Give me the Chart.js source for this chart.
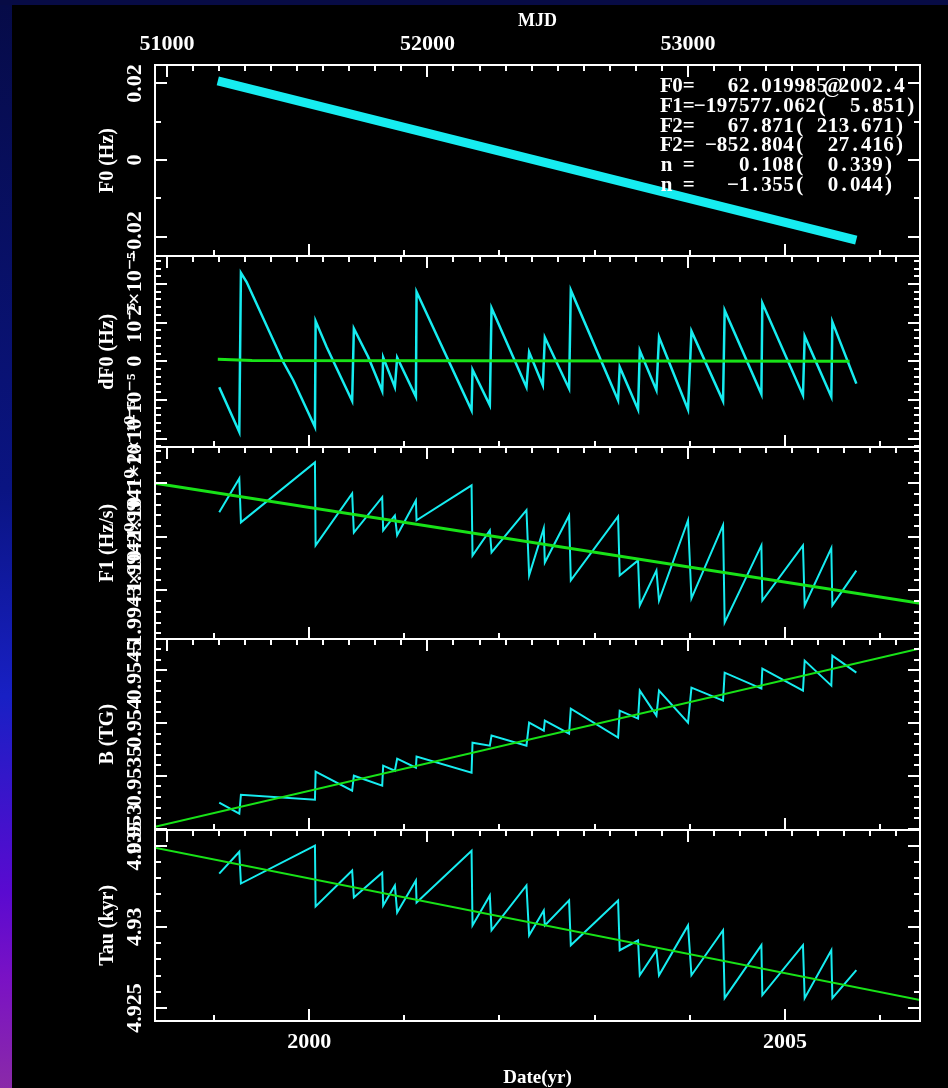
<!DOCTYPE html>
<html>
<head>
<meta charset="utf-8">
<title>Spin parameters</title>
<script src="https://cdn.jsdelivr.net/npm/chart.js@4.4.1/dist/chart.umd.min.js"></script>
<style>
  html, body { margin: 0; padding: 0; }
  body {
    width: 948px; height: 1088px; overflow: hidden; position: relative;
    background: linear-gradient(to bottom, #060b47 0%, #0a1482 45%, #1820c4 64%, #5a0ad0 82%, #7a12c4 90%, #8a2aa8 100%);
  }
  #band { position: absolute; left: 0; top: 0; width: 948px; height: 5px; background: #070b45; }
  #wrap { position: absolute; left: 12px; top: 5px; width: 936px; height: 1083px; background: #000; }
</style>
</head>
<body>
<div id="band"></div>
<div id="wrap"><canvas id="myChart" width="936" height="1083"></canvas></div>
<script>
// F0 model line (Hz, relative to epoch value)
var f0Years = [1999.04, 2005.75];
var f0Values = [0.02065, -0.02092];

// frequency residuals, units of 1e-5 Hz
var dfYears = [1999.055, 1999.266, 1999.283, 1999.343, 1999.728, 1999.833, 2000.061, 2000.068, 2000.184, 2000.289,
    2000.452, 2000.470, 2000.621, 2000.768, 2000.778, 2000.901, 2000.925, 2001.122, 2001.129, 2001.707,
    2001.717, 2001.899, 2001.917, 2002.284, 2002.312, 2002.456, 2002.477, 2002.732, 2002.750, 2003.247,
    2003.264, 2003.457, 2003.475, 2003.650, 2003.677, 2003.982, 2004.018, 2004.350, 2004.367, 2004.753,
    2004.763, 2005.190, 2005.208, 2005.488, 2005.499, 2005.751];
var dfValues = [-0.67, -1.83, 2.29, 2.05, -0.02, -0.49, -1.70, 1.04, 0.37, -0.18,
    -1.03, 0.85, 0.11, -0.77, 0.10, -0.67, 0.10, -0.92, 1.80, -1.27,
    -0.22, -1.14, 1.38, -0.67, 0.24, -0.62, 0.62, -0.71, 1.84, -1.01,
    -0.15, -1.25, 0.28, -0.75, 0.63, -1.25, 0.78, -1.03, 1.32, -0.85,
    1.51, -0.88, 0.65, -0.92, 1.02, -0.58];
var dfFitYears = [1999.04, 1999.40, 2005.68];
var dfFitValues = [0.05, 0.02, 0.0];

// break points of the spin-down segments
var epochs = [1999.055, 1999.266, 1999.283, 2000.061, 2000.068, 2000.452, 2000.470, 2000.768, 2000.778, 2000.901,
    2000.925, 2001.122, 2001.129, 2001.707, 2001.717, 2001.899, 2001.917, 2002.284, 2002.312, 2002.466,
    2002.477, 2002.732, 2002.750, 2003.247, 2003.264, 2003.457, 2003.475, 2003.650, 2003.677, 2003.982,
    2004.018, 2004.350, 2004.367, 2004.753, 2004.763, 2005.190, 2005.208, 2005.488, 2005.499, 2005.751];
// F1, units of 1e-10 Hz/s
var f1Values = [-1.994154, -1.994091, -1.994173, -1.994061, -1.994216, -1.994119, -1.994192, -1.994126, -1.994188, -1.994160,
    -1.994197, -1.994132, -1.994169, -1.994104, -1.994235, -1.994188, -1.994229, -1.994150, -1.994272, -1.994184,
    -1.994248, -1.994160, -1.994281, -1.994162, -1.994272, -1.994244, -1.994328, -1.994263, -1.994319, -1.994169,
    -1.994315, -1.994178, -1.994360, -1.994216, -1.994319, -1.994216, -1.994328, -1.994221, -1.994328, -1.994263];
// surface field, TG
var bValues = [0.953246, 0.953142, 0.953322, 0.953275, 0.953540, 0.953360, 0.953502, 0.953407, 0.953597, 0.953549,
    0.953663, 0.953578, 0.953682, 0.953530, 0.953814, 0.953786, 0.953881, 0.953786, 0.954004, 0.953928,
    0.954023, 0.953900, 0.954136, 0.953862, 0.954117, 0.954042, 0.954307, 0.954070, 0.954307, 0.954004,
    0.954335, 0.954212, 0.954477, 0.954326, 0.954515, 0.954307, 0.954591, 0.954354, 0.954638, 0.954477];
// characteristic age, kyr
var tauValues = [4.93328, 4.93463, 4.93267, 4.93500, 4.93126, 4.93347, 4.93181, 4.93334, 4.93132, 4.93255,
    4.93089, 4.93285, 4.93150, 4.93469, 4.93009, 4.93193, 4.92979, 4.93255, 4.92948, 4.93101,
    4.93009, 4.93163, 4.92887, 4.93163, 4.92856, 4.92917, 4.92702, 4.92856, 4.92702, 4.93009,
    4.92702, 4.92979, 4.92561, 4.92887, 4.92580, 4.92887, 4.92561, 4.92856, 4.92561, 4.92733];

// long-term fits across the whole axis
var fitEnds = [1998.38, 2006.42];
var f1Fit = [-1.9941, -1.994324];
var bFit = [0.953019, 0.954705];
var tauFit = [4.93488, 4.92549];

var yearTicks = [2000, 2005];
var mjdTicks = [51000, 52000, 53000];

var f0Ticks = [0.02, 0, -0.02];
var f0Labels = ['0.02', '0', '\u22120.02'];
var dfTicks = [2, 1, 0, -1, -2];
var dfLabels = ['2\u00d710\u207b\u2075', '10\u207b\u2075', '0', '\u221210\u207b\u2075', '\u22122\u00d710\u207b\u2075'];
var f1Ticks = [-1.9941, -1.9942, -1.9943];
var f1Labels = ['\u22121.9941\u00d710\u207b\u00b9\u2070', '\u22121.9942\u00d710\u207b\u00b9\u2070', '\u22121.9943\u00d710\u207b\u00b9\u2070'];
var bTicks = [0.9545, 0.954, 0.9535, 0.953];
var bLabels = ['0.9545', '0.954', '0.9535', '0.953'];
var tauTicks = [4.935, 4.93, 4.925];
var tauLabels = ['4.935', '4.93', '4.925'];

var fitText = [
    'F0=   62.019985@2002.4',
    'F1=\u2212197577.062(  5.851)',
    'F2=   67.871( 213.671)',
    'F2= \u2212852.804(  27.416)',
    'n =    0.108(  0.339)',
    'n =   \u22121.355(  0.044)'
];

var serif = '"Liberation Serif", "DejaVu Serif", serif';
var cyan = '#16ecf0';
var green = '#18e218';

var panels = [
    {id: 'p1', title: 'F0 (Hz)', min: -0.0251, max: 0.0248, ticks: f0Ticks, labels: f0Labels, minor: 0.01},
    {id: 'p2', title: 'dF0 (Hz)', min: -2.23, max: 2.72, ticks: dfTicks, labels: dfLabels, minor: 0.2},
    {id: 'p3', title: 'F1 (Hz/s)', min: -1.99439, max: -1.994033, ticks: f1Ticks, labels: f1Labels, minor: 0.00002},
    {id: 'p4', title: 'B (TG)', min: 0.95299, max: 0.954799, ticks: bTicks, labels: bLabels, minor: 0.0001},
    {id: 'p5', title: 'Tau (kyr)', min: 4.9242, max: 4.93598, ticks: tauTicks, labels: tauLabels, minor: 0.001}
];

function pts(xs, ys) {
    return xs.map(function (x, i) { return {x: x, y: ys[i]}; });
}

function line(xs, ys, axis, color, width, order) {
    return {data: pts(xs, ys), yAxisID: axis, xAxisID: 'x', borderColor: color, borderWidth: width,
        pointRadius: 0, tension: 0, fill: false, order: order};
}

var scales = {
    x: {
        type: 'linear', position: 'bottom', min: 1998.38, max: 2006.42,
        afterBuildTicks: function (s) { s.ticks = yearTicks.map(function (v) { return {value: v}; }); },
        afterFit: function (s) { s.height = 67; },
        grid: {display: false, drawTicks: false}, border: {display: false},
        ticks: {color: '#fff', font: {family: serif, size: 22, weight: 'bold'}, padding: 8, maxRotation: 0,
            autoSkip: false, callback: function (v) { return String(v); }},
        title: {display: true, text: 'Date(yr)', color: '#fff', font: {family: serif, size: 19, weight: 'bold', lineHeight: 1},
            padding: {top: 0, bottom: 0}}
    },
    x2: {
        type: 'linear', position: 'top', min: 50954, max: 53891,
        afterBuildTicks: function (s) { s.ticks = mjdTicks.map(function (v) { return {value: v}; }); },
        afterFit: function (s) { s.height = 60; },
        grid: {display: false, drawTicks: false}, border: {display: false},
        ticks: {color: '#fff', font: {family: serif, size: 22, weight: 'bold'}, padding: 7, maxRotation: 0,
            autoSkip: false, callback: function (v) { return String(v); }},
        title: {display: true, text: 'MJD', color: '#fff', font: {family: serif, size: 18, weight: 'bold', lineHeight: 1},
            padding: {top: 7, bottom: 0}}
    }
};

// five panels stacked on one left axis column, top to bottom
panels.forEach(function (p, i) {
    scales[p.id] = {
        type: 'linear', axis: 'y', position: 'left', stack: 'panels', stackWeight: 1, weight: 5 - i,
        min: p.min, max: p.max,
        afterFit: function (s) { s.width = 143; },
        grid: {display: false, drawTicks: false}, border: {display: false},
        ticks: {display: false},
        title: {display: true, text: p.title, color: '#fff', font: {family: serif, size: 20, weight: 'bold'},
            padding: {top: 84, bottom: 0}}
    };
});

// PGPLOT style boxes: inward ticks on all four sides, rotated y labels, fit summary
var frames = {
    id: 'frames',
    afterDraw: function (chart) {
        var ctx = chart.ctx, area = chart.chartArea;
        var xs = chart.scales.x, xm = chart.scales.x2;
        ctx.save();
        ctx.strokeStyle = '#fff';
        ctx.fillStyle = '#fff';
        ctx.lineWidth = 2;
        panels.forEach(function (p) {
            var s = chart.scales[p.id];
            var top = Math.round(s.top), bottom = Math.round(s.bottom);
            ctx.beginPath();
            ctx.rect(area.left, top, area.right - area.left, bottom - top);
            var n0 = Math.ceil(s.min / p.minor - 1e-6), n1 = Math.floor(s.max / p.minor + 1e-6);
            for (var n = n0; n <= n1; n++) {
                var v = n * p.minor;
                var big = p.ticks.some(function (m) { return Math.abs(m - v) < p.minor / 10; });
                var len = big ? 12 : 6;
                var y = Math.round(s.getPixelForValue(v));
                ctx.moveTo(area.left, y); ctx.lineTo(area.left + len, y);
                ctx.moveTo(area.right, y); ctx.lineTo(area.right - len, y);
            }
            for (var yr = 1999; yr <= 2006; yr++) {
                var x = Math.round(xs.getPixelForValue(yr));
                ctx.moveTo(x, bottom); ctx.lineTo(x, bottom - (yr % 5 === 0 ? 12 : 6));
            }
            for (var mjd = 51000; mjd <= 53800; mjd += 100) {
                var xx = Math.round(xm.getPixelForValue(mjd));
                ctx.moveTo(xx, top); ctx.lineTo(xx, top + (mjd % 1000 === 0 ? 12 : 6));
            }
            ctx.stroke();

            ctx.font = 'bold 22px ' + serif;
            ctx.textAlign = 'center';
            ctx.textBaseline = 'middle';
            p.ticks.forEach(function (v, i) {
                ctx.save();
                ctx.translate(123, s.getPixelForValue(v));
                ctx.rotate(-Math.PI / 2);
                ctx.fillText(p.labels[i], 0, 0);
                ctx.restore();
            });
        });

        // fit summary, one character per fixed-width cell
        ctx.font = 'bold 21px ' + serif;
        ctx.textAlign = 'center';
        ctx.textBaseline = 'alphabetic';
        fitText.forEach(function (row, r) {
            for (var c = 0; c < row.length; c++) {
                ctx.fillText(row[c], 649 + 11.1 * c + 5.5, 87 + 19.8 * r);
            }
        });
        ctx.restore();
    }
};

var ctx = document.getElementById('myChart').getContext('2d');
var myChart = new Chart(ctx, {
    type: 'line',
    data: {
        datasets: [
            line(f0Years, f0Values, 'p1', cyan, 9, 1),
            line(dfYears, dfValues, 'p2', cyan, 2.5, 1),
            line(dfFitYears, dfFitValues, 'p2', green, 3, 0),
            line(epochs, f1Values, 'p3', cyan, 2, 1),
            line(fitEnds, f1Fit, 'p3', green, 3, 0),
            line(epochs, bValues, 'p4', cyan, 2, 1),
            line(fitEnds, bFit, 'p4', green, 2, 0),
            line(epochs, tauValues, 'p5', cyan, 2, 1),
            line(fitEnds, tauFit, 'p5', green, 2, 0)
        ]
    },
    options: {
        responsive: false,
        animation: false,
        layout: {padding: {left: 0, right: 28, top: 0, bottom: 0}},
        plugins: {legend: {display: false}, tooltip: {enabled: false}},
        scales: scales
    },
    plugins: [frames]
});
</script>
</body>
</html>
